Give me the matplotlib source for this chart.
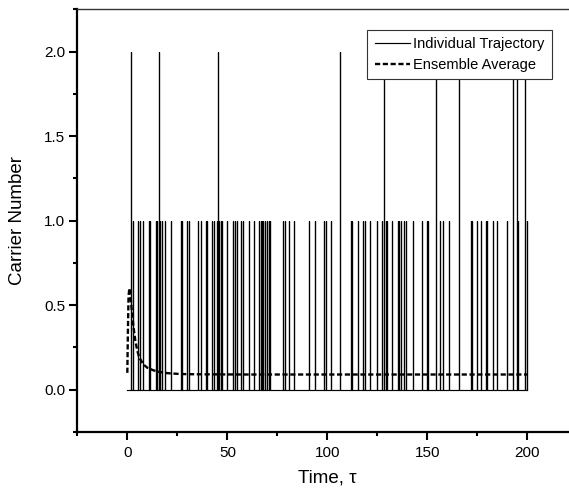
import numpy as np
import matplotlib.pyplot as plt
from matplotlib.ticker import MultipleLocator, FormatStrFormatter

plt.rcParams['font.family'] = ['Liberation Sans', 'DejaVu Sans']

# event times (tau) where the carrier number jumps
t_one = [2.9, 5.1, 6.25, 7.6, 10.9, 11.4, 14.1, 14.9, 16.4, 17.4, 18.6, 21.9,
         26.75, 27.4, 29.9, 30.75, 35.1, 36.75, 39.1, 39.9, 42.1, 43.25, 44.6,
         45.75, 46.6, 47.25, 49.6, 52.9, 53.6, 54.6, 56.9, 57.6, 60.6, 63.25,
         65.9, 66.6, 67.25, 67.9, 68.75, 69.6, 70.6, 71.25, 77.9, 78.6, 80.9,
         83.25, 90.9, 93.8, 98.25, 99.1, 101.6, 111.6, 112.1, 115.1, 117.9,
         118.75, 121.25, 124.6, 127.1, 129.25, 129.9, 132.25, 135.1, 135.9,
         136.6, 138.4, 139.25, 142.6, 147.1, 149.6, 150.25, 156.25, 157.9,
         160.6, 171.6, 172.4, 174.9, 176.6, 179.1, 179.75, 182.6, 184.6,
         189.9, 195.4, 199.6]
t_two = [1.75, 15.75, 45.1, 106.25, 128.4, 154.1, 165.9, 192.6, 194.9, 198.9]

# ensemble average
t_avg = [0, 0.3, 0.6, 1.0, 1.5, 2, 3, 4, 5, 6, 8, 10, 13, 16, 20, 25, 30, 40,
         60, 100, 150, 200]
n_avg = [0.10, 0.35, 0.55, 0.60, 0.57, 0.50, 0.38, 0.29, 0.23, 0.19, 0.15,
         0.13, 0.115, 0.105, 0.098, 0.094, 0.092, 0.091, 0.09, 0.09, 0.09, 0.09]

# build the trajectory path: baseline at 0 with instantaneous jumps
events = sorted([(t, 1) for t in t_one] + [(t, 2) for t in t_two])
traj_t = [0.0]
traj_n = [0.0]
for t, h in events:
    traj_t += [t, t, t]
    traj_n += [0, h, 0]
traj_t.append(200.0)
traj_n.append(0.0)

fig = plt.figure(figsize=(5.69, 4.97), dpi=100)
ax = fig.add_axes([77.3 / 569, 1 - 432 / 497, 500.2 / 569, 422.7 / 497])

ax.plot(traj_t, traj_n, color='black', lw=0.85, label='Individual Trajectory')
ax.plot(t_avg, n_avg, color='black', lw=1.7, dashes=(2.2, 1.1),
        label='Ensemble Average')

ax.set_xlim(-25, 225)
ax.set_ylim(-0.25, 2.25)
ax.xaxis.set_major_locator(MultipleLocator(50))
ax.xaxis.set_minor_locator(MultipleLocator(25))
ax.yaxis.set_major_locator(MultipleLocator(0.5))
ax.yaxis.set_minor_locator(MultipleLocator(0.25))
ax.yaxis.set_major_formatter(FormatStrFormatter('%.1f'))

for s in ['left', 'bottom']:
    ax.spines[s].set_linewidth(1.6)
ax.spines['top'].set_linewidth(1.0)
ax.spines['top'].set_color('#333333')
ax.spines['right'].set_visible(False)

ax.tick_params(which='major', direction='out', length=6, width=1.5,
               labelsize=11)
ax.tick_params(which='minor', direction='out', length=3, width=1.5)
ax.tick_params(axis='x', pad=4)
ax.tick_params(axis='y', pad=2.5)

ax.set_xlabel('Time, τ', fontsize=13.5, labelpad=7)
ax.set_ylabel('Carrier Number', fontsize=13.5, labelpad=13)

leg = ax.legend(loc='upper right', bbox_to_anchor=(0.949, 0.951),
                borderaxespad=0, fontsize=10.5, fancybox=False,
                framealpha=1, edgecolor='#333333', handlelength=2.4,
                handletextpad=0.25, labelspacing=0.45, borderpad=0.5)
leg.get_frame().set_linewidth(0.8)

fig.savefig('out.png', dpi=100)
